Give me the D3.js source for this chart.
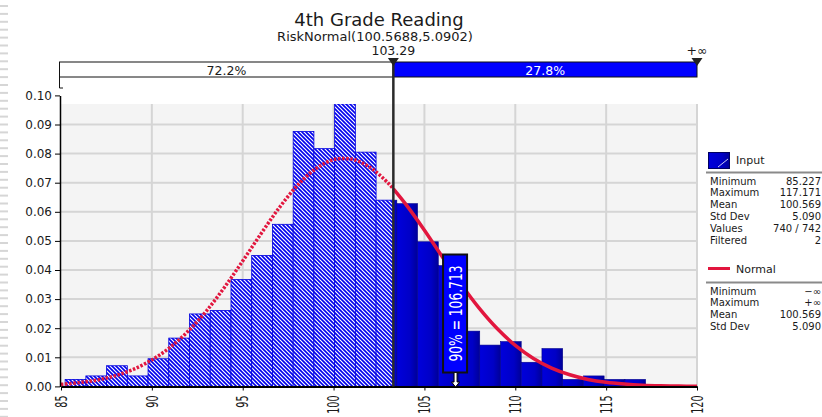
<!DOCTYPE html>
<html>
<head>
<meta charset="utf-8">
<style>
  body { margin: 0; background: #fff; }
  svg { display: block; }
  text { font-family: "DejaVu Sans", Verdana, sans-serif; fill: #1a1a1a; }
</style>
</head>
<body>
<svg width="822" height="417"></svg>
<script src="https://d3js.org/d3.v7.min.js"></script>
<script>

// histogram densities, 28 equal bins from min to max of the input
var binMin = 85.227, binMax = 117.171;
var densities = [0.0024, 0.0036, 0.0071, 0.0036, 0.0095, 0.0166, 0.0249, 0.0261,
                 0.0367, 0.0450, 0.0557, 0.0876, 0.0817, 0.0971, 0.0805, 0.0640,
                 0.0628, 0.0497, 0.0415, 0.0190, 0.0142, 0.0154, 0.0083, 0.0130,
                 0.0024, 0.0036, 0.0024, 0.0024];

// fitted normal curve
var curveX = [85, 86, 87, 88, 89, 90, 91, 92, 93, 94, 95, 96, 97, 98, 99, 100, 101, 102, 103, 103.29,
              104, 105, 106, 107, 108, 109, 110, 111, 112, 113, 114, 115, 116, 117, 118, 119, 120];
var curveY = [0.0007, 0.0013, 0.0022, 0.0037, 0.0059, 0.0091, 0.0134, 0.0190, 0.0259, 0.0341,
              0.0431, 0.0524, 0.0613, 0.0690, 0.0747, 0.0779, 0.0781, 0.0753, 0.0699, 0.0679,
              0.0624, 0.0537, 0.0444, 0.0353, 0.0270, 0.0199, 0.0141, 0.0096, 0.0063, 0.0040,
              0.0024, 0.0014, 0.0008, 0.0004, 0.0002, 0.0001, 0.00005];

var cutValue = 103.29, cutLabel = "103.29", rightLabel = "+\u221e";
var leftPct = "72.2%", rightPct = "27.8%";
var p90Value = 106.713, p90Label = "90% = 106.713";

var xTicks = [85, 90, 95, 100, 105, 110, 115, 120];
var yTicks = [0, 0.01, 0.02, 0.03, 0.04, 0.05, 0.06, 0.07, 0.08, 0.09, 0.10];

var titleText = "4th Grade Reading";
var subtitleText = "RiskNormal(100.5688,5.0902)";

var inputStats = [["Minimum", "85.227"], ["Maximum", "117.171"], ["Mean", "100.569"],
                  ["Std Dev", "5.090"], ["Values", "740 / 742"], ["Filtered", "2"]];
var normalStats = [["Minimum", "\u2212\u221e"], ["Maximum", "+\u221e"], ["Mean", "100.569"],
                   ["Std Dev", "5.090"]];

var svg = d3.select("svg");
var plotTop = 104;

var x = d3.scaleLinear().domain([85, 120]).range([61, 697]);
var y = d3.scaleLinear().domain([0, 0.1]).range([386.4, 95.4]);

var defs = svg.append("defs");

var hatch = defs.append("pattern")
    .attr("id", "hatch")
    .attr("patternUnits", "userSpaceOnUse")
    .attr("width", 4).attr("height", 4);
hatch.append("rect").attr("width", 4).attr("height", 4).attr("fill", "#0000ee");
hatch.append("path")
    .attr("d", "M0,0L4,4M-1,3L1,5M3,-1L5,1")
    .attr("stroke", "#fff").attr("stroke-width", 1.2);

var grad = defs.append("linearGradient").attr("id", "solid");
grad.append("stop").attr("offset", "0%").attr("stop-color", "#0000dc");
grad.append("stop").attr("offset", "65%").attr("stop-color", "#0000c6");
grad.append("stop").attr("offset", "100%").attr("stop-color", "#000098");

defs.append("clipPath").attr("id", "plotclip")
  .append("rect")
    .attr("x", x(85)).attr("y", plotTop)
    .attr("width", x(120) - x(85)).attr("height", y(0) - plotTop);

// page margin marks on the far left
svg.append("g").selectAll("rect")
    .data(d3.range(5, 417, 7.9))
  .enter().append("rect")
    .attr("x", 0).attr("y", function(d) { return d; })
    .attr("width", 8).attr("height", 2)
    .attr("fill", "#d6d6d6");

// titles
svg.append("text")
    .attr("x", 379).attr("y", 26)
    .attr("text-anchor", "middle")
    .attr("font-size", "18px")
    .text(titleText);

svg.append("text")
    .attr("x", 375).attr("y", 41)
    .attr("text-anchor", "middle")
    .attr("font-size", "13px")
    .text(subtitleText);

// plot background + grid
svg.append("rect")
    .attr("x", x(85)).attr("y", plotTop)
    .attr("width", x(120) - x(85)).attr("height", y(0) - plotTop)
    .attr("fill", "#f4f4f4");

var grid = svg.append("g").attr("stroke", "#d5d5d5").attr("stroke-width", 2);
grid.selectAll(".vg")
    .data(xTicks.slice(1))
  .enter().append("line")
    .attr("x1", function(d) { return x(d); }).attr("x2", function(d) { return x(d); })
    .attr("y1", plotTop).attr("y2", y(0));
grid.selectAll(".hg")
    .data(yTicks.filter(function(d) { return d > 0 && d < 0.1; }))
  .enter().append("line")
    .attr("x1", x(85)).attr("x2", x(120))
    .attr("y1", function(d) { return y(d); }).attr("y2", function(d) { return y(d); });

// bars
var bw = (binMax - binMin) / densities.length;
var bins = densities.map(function(d, i) {
  return {x0: binMin + i * bw, x1: binMin + (i + 1) * bw, v: d};
});

var bars = svg.append("g").attr("clip-path", "url(#plotclip)");

bars.selectAll(".hb")
    .data(bins.filter(function(b) { return b.x0 < cutValue; }))
  .enter().append("rect")
    .attr("x", function(b) { return x(b.x0); })
    .attr("width", function(b) { return x(Math.min(b.x1, cutValue)) - x(b.x0); })
    .attr("y", function(b) { return y(b.v); })
    .attr("height", function(b) { return y(0) - y(b.v); })
    .attr("fill", "url(#hatch)")
    .attr("stroke", "#0000dd").attr("stroke-width", 0.8);

bars.selectAll(".sb")
    .data(bins.filter(function(b) { return b.x1 > cutValue; }))
  .enter().append("rect")
    .attr("x", function(b) { return x(Math.max(b.x0, cutValue)); })
    .attr("width", function(b) { return x(b.x1) - x(Math.max(b.x0, cutValue)); })
    .attr("y", function(b) { return y(b.v); })
    .attr("height", function(b) { return y(0) - y(b.v); })
    .attr("fill", "url(#solid)")
    .attr("stroke", "#00008a").attr("stroke-width", 0.6);

// normal curve: dotted left of the cut, solid right of it
var pts = curveX.map(function(v, i) { return [v, curveY[i]]; });
var line = d3.line()
    .x(function(d) { return x(d[0]); })
    .y(function(d) { return y(d[1]); })
    .curve(d3.curveCatmullRom);

svg.append("path")
    .datum(pts.filter(function(d) { return d[0] <= cutValue; }))
    .attr("fill", "none")
    .attr("stroke", "#e2163e")
    .attr("stroke-width", 3.5)
    .attr("stroke-dasharray", "2.5,1.6")
    .attr("d", line);

svg.append("path")
    .datum(pts.filter(function(d) { return d[0] >= cutValue; }))
    .attr("fill", "none")
    .attr("stroke", "#e2163e")
    .attr("stroke-width", 3.5)
    .attr("stroke-linejoin", "round")
    .attr("d", line);

// axes
var yAxis = svg.append("g")
    .attr("transform", "translate(60,0)")
    .call(d3.axisLeft(y).tickValues(yTicks).tickSize(5).tickSizeOuter(0).tickFormat(d3.format(".2f")));
yAxis.select(".domain").attr("stroke", "#000").attr("stroke-width", 1.5);
yAxis.selectAll(".tick line").attr("stroke", "#000");
yAxis.selectAll("text").attr("font-size", "12px").attr("fill", "#1a1a1a")
    .attr("font-family", "DejaVu Sans, Verdana, sans-serif");

var xAxis = svg.append("g")
    .attr("transform", "translate(0,386.5)")
    .call(d3.axisBottom(x).tickValues(xTicks).tickSize(4).tickSizeOuter(0));
xAxis.select(".domain").attr("stroke", "#000").attr("stroke-width", 2);
xAxis.selectAll(".tick line").attr("stroke", "#000");
xAxis.selectAll("text")
    .attr("transform", "rotate(-90)")
    .attr("x", -9).attr("y", 0).attr("dy", "0.35em")
    .attr("text-anchor", "end")
    .attr("font-size", "15px").attr("fill", "#1a1a1a")
    .attr("font-family", "DejaVu Sans, Verdana, sans-serif")
    .attr("textLength", function(d) { return String(d).length * 6.1; })
    .attr("lengthAdjust", "spacingAndGlyphs");

// delimiter bar on top
var barTop = 62, barBot = 77;
svg.append("rect")
    .attr("x", 59.5).attr("y", barTop)
    .attr("width", x(cutValue) - 59.5).attr("height", barBot - barTop)
    .attr("fill", "#fff").attr("stroke", "#111").attr("stroke-width", 1);
svg.append("rect")
    .attr("x", x(cutValue)).attr("y", barTop)
    .attr("width", x(120) - x(cutValue)).attr("height", barBot - barTop)
    .attr("fill", "#0000ff").attr("stroke", "#111").attr("stroke-width", 1);
svg.append("path")
    .attr("d", "M59.5," + barBot + "V88H63")
    .attr("fill", "none").attr("stroke", "#111").attr("stroke-width", 1);

svg.append("text")
    .attr("x", (59.5 + x(cutValue)) / 2).attr("y", 75)
    .attr("text-anchor", "middle").attr("font-size", "12.5px")
    .text(leftPct);
svg.append("text")
    .attr("x", (x(cutValue) + x(120)) / 2).attr("y", 75)
    .attr("text-anchor", "middle").attr("font-size", "12.5px")
    .style("fill", "#fff")
    .text(rightPct);

// cut line
svg.append("line")
    .attr("x1", x(cutValue)).attr("x2", x(cutValue))
    .attr("y1", barTop).attr("y2", y(0))
    .attr("stroke", "#2a2a2a").attr("stroke-width", 2.5);

// markers + labels
[[cutValue, cutLabel], [120, rightLabel]].forEach(function(m) {
  var cx = x(m[0]);
  svg.append("path")
      .attr("d", "M" + (cx - 5.5) + ",58H" + (cx + 5.5) + "L" + cx + ",66Z")
      .attr("fill", "#222");
  svg.append("text")
      .attr("x", cx).attr("y", 54.5)
      .attr("text-anchor", "middle").attr("font-size", "12.5px")
      .text(m[1]);
});

// 90% label box
var px = x(p90Value);
svg.append("rect")
    .attr("x", px - 12.5).attr("y", 254.5)
    .attr("width", 24).attr("height", 118)
    .attr("fill", "#0000ff").attr("stroke", "#111").attr("stroke-width", 2);
svg.append("text")
    .attr("transform", "translate(" + (px - 0.5) + ",313.5) rotate(-90)")
    .attr("text-anchor", "middle").attr("dy", "0.36em")
    .attr("font-size", "18px")
    .attr("textLength", 96).attr("lengthAdjust", "spacingAndGlyphs")
    .style("fill", "#fff")
    .text(p90Label);
svg.append("path")
    .attr("d", "M" + (px - 1.5) + ",373V382H" + (px - 4) + "L" + px + ",387L" + (px + 4) + ",382H" + (px + 1.5) + "V373")
    .attr("fill", "#fff").attr("stroke", "#000").attr("stroke-width", 1);

// legend
var lg = svg.append("g");
lg.append("rect")
    .attr("x", 708.5).attr("y", 152.5).attr("width", 21).attr("height", 16)
    .attr("fill", "url(#solid)").attr("stroke", "#000060");
lg.append("line")
    .attr("x1", 718).attr("y1", 167).attr("x2", 728).attr("y2", 159)
    .attr("stroke", "#fff").attr("stroke-width", 0.8);
lg.append("text").attr("x", 736).attr("y", 164).attr("font-size", "11px").text("Input");
lg.append("line")
    .attr("x1", 706).attr("x2", 822).attr("y1", 172.5).attr("y2", 172.5)
    .attr("stroke", "#8a8a8a").attr("stroke-width", 2);

function statRows(rows, y0) {
  rows.forEach(function(r, i) {
    lg.append("text").attr("x", 710).attr("y", y0 + i * 11.8)
        .attr("font-size", "10px").text(r[0]);
    lg.append("text").attr("x", 821).attr("y", y0 + i * 11.8)
        .attr("font-size", "10px").attr("text-anchor", "end").text(r[1]);
  });
}
statRows(inputStats, 184.5);

lg.append("line")
    .attr("x1", 708).attr("x2", 730).attr("y1", 268.5).attr("y2", 268.5)
    .attr("stroke", "#e2163e").attr("stroke-width", 3);
lg.append("text").attr("x", 736).attr("y", 272.5).attr("font-size", "11px").text("Normal");
lg.append("line")
    .attr("x1", 706).attr("x2", 822).attr("y1", 282.5).attr("y2", 282.5)
    .attr("stroke", "#8a8a8a").attr("stroke-width", 2);
statRows(normalStats, 294.5);

</script>
</body>
</html>
